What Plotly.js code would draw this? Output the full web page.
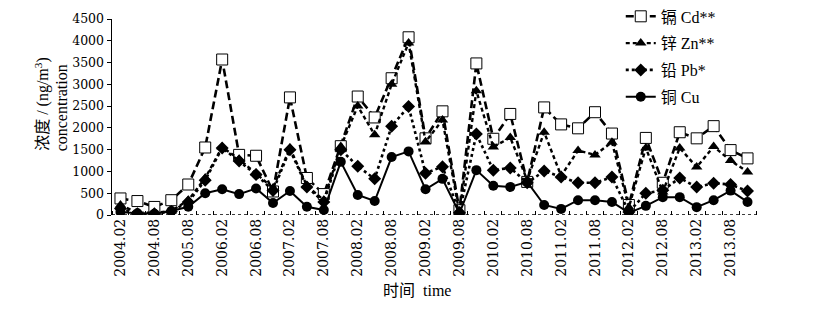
<!DOCTYPE html>
<html>
<head>
<meta charset="utf-8">
<script src="https://cdn.plot.ly/plotly-3.0.1.min.js"></script>
<style>
html,body{margin:0;padding:0;background:#fff;}
#chart{width:826px;height:312px;}
</style>
</head>
<body>
<div id="chart"></div>
<script>
// Tick labels shown under every second sampling point (38 sampling points in total)
const tickLabels = ["2004.02","2004.08","2005.08","2006.02","2006.08","2007.02","2007.08",
  "2008.02","2008.08","2009.02","2009.08","2010.02","2010.08","2011.02","2011.08",
  "2012.02","2012.08","2013.02","2013.08"];

// Concentrations (ng/m3), one value per sampling point
const cd = [380,320,185,340,700,1550,3570,1380,1360,540,2700,850,480,1580,2720,2240,3140,4080,
  1760,2380,110,3480,1750,2320,760,2470,2080,1990,2360,1870,230,1770,740,1900,1760,2040,1490,1300];
const zn = [230,50,50,90,340,850,1560,1280,950,620,1540,670,340,1570,2500,1840,3000,3950,
  1680,2180,50,2850,1560,1780,800,1900,900,1480,1380,1670,180,1540,530,1540,1100,1570,1250,990];
const pb = [150,30,30,80,300,800,1540,1240,930,560,1500,640,300,1500,1120,830,2040,2490,
  960,1110,50,1860,1030,1080,740,1010,870,740,740,870,70,500,570,850,640,730,700,550];
const cu = [70,40,30,90,190,500,590,480,610,275,550,190,115,1220,460,320,1330,1460,
  590,830,40,1030,670,645,760,230,140,340,340,300,50,210,410,410,180,340,560,300];

const seriesNames = ["镉 Cd**","锌 Zn**","铅 Pb*","铜 Cu"];

const n = cd.length;
const xs = Array.from({length:n},(_,i)=>i);
const tickVals = tickLabels.map((_,k)=>2*k);

const FONT = 'Liberation Serif, Noto Sans CJK SC, serif';
const TICKFONT = 'DejaVu Serif, Liberation Serif, serif';

const traces = [
  {y:cd, name:seriesNames[0], line:{color:'#000',width:2.6,dash:'8px,4px'},
   marker:{symbol:'square',size:11,color:'#fff',line:{color:'#000',width:1}}},
  {y:zn, name:seriesNames[1], line:{color:'#000',width:2.4,dash:'4px,3px'},
   marker:{symbol:'triangle-up',size:10,color:'#000'}},
  {y:pb, name:seriesNames[2], line:{color:'#000',width:2.6,dash:'3px,3px'},
   marker:{symbol:'diamond',size:10,color:'#000'}},
  {y:cu, name:seriesNames[3], line:{color:'#000',width:2},
   marker:{symbol:'circle',size:10,color:'#000'}}
].map((t,i)=>Object.assign({x:xs, type:'scatter', mode:'lines+markers', legendgroup:'g'+i}, t));

const layout = {
  width:826, height:312,
  margin:{l:112, r:70, t:19, b:97, autoexpand:false},
  paper_bgcolor:'#fff', plot_bgcolor:'#fff',
  font:{family:FONT, color:'#000', size:15},
  showlegend:true,
  legend:{x:0.79, xanchor:'left', y:1.10, yanchor:'top', bgcolor:'rgba(0,0,0,0)',
    font:{size:16, family:FONT}, tracegroupgap:3},
  xaxis:{range:[-0.5,37.5], tickmode:'array', tickvals:tickVals, ticktext:tickLabels,
    tickangle:-90, ticks:'', showgrid:false, zeroline:false, showline:false,
    tickfont:{size:14, family:TICKFONT},
    minor:{tickmode:'linear', tick0:-0.5, dtick:1, ticks:'inside', ticklen:4, tickcolor:'#000', showgrid:false}},
  yaxis:{range:[0,4500], tickmode:'linear', tick0:0, dtick:500, ticks:'outside', ticklen:4,
    tickcolor:'#000', showline:true, linecolor:'#000', linewidth:1.5, showgrid:false, zeroline:false,
    tickfont:{size:12.5, family:TICKFONT}},
  shapes:[{type:'line', xref:'paper', yref:'y', x0:0, x1:1, y0:0, y1:0,
    line:{color:'#000', width:1.5, dash:'dot'}}],
  annotations:[
    {text:'浓度 / (ng/m<sup>3</sup>)', xref:'paper', yref:'paper', x:-0.109, y:0.316,
     xanchor:'center', yanchor:'bottom', textangle:-90, showarrow:false, font:{size:16}},
    {text:'concentration', xref:'paper', yref:'paper', x:-0.078, y:0.316,
     xanchor:'center', yanchor:'bottom', textangle:-90, showarrow:false, font:{size:16}},
    {text:'时间  time', xref:'paper', yref:'paper', x:0.474, y:-0.383,
     xanchor:'center', yanchor:'middle', showarrow:false, font:{size:16}}
  ]
};

Plotly.newPlot('chart', traces, layout, {staticPlot:true, displayModeBar:false});
</script>
</body>
</html>
